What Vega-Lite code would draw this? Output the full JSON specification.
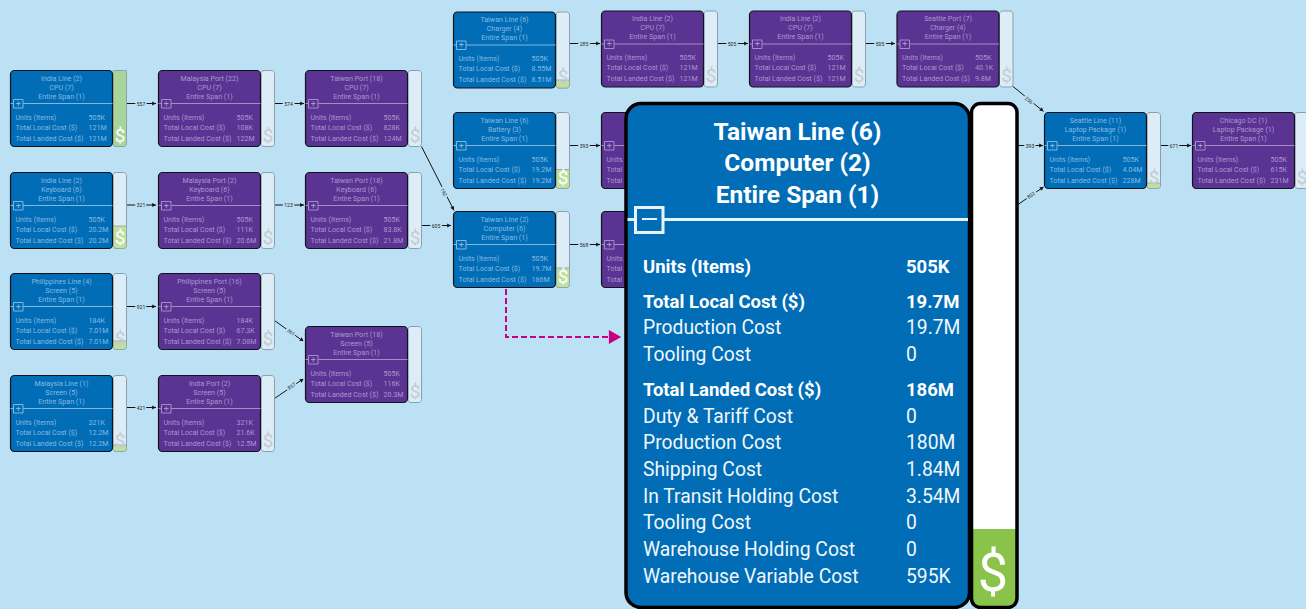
{
"$schema":"https://vega.github.io/schema/vega-lite/v6.json",
"width":1306,"height":609,"padding":0,"autosize":{"type":"none"},
"background":"#bde1f4",
"config":{"view":{"stroke":null},"text":{"font":"Roboto","baseline":"middle"}},
"resolve":{"scale":{"fill":"independent","color":"independent","stroke":"independent"}},
"datasets":{
"nodes":[
{"x":10.5,"y":70.5,"kind":"line","t1":"India Line (2)","t2":"CPU (7)","t3":"Entire Span (1)","units":"505K","local":"121M","landed":"121M","green":70.5,"level":"full"},
{"x":10.5,"y":172.5,"kind":"line","t1":"India Line (2)","t2":"Keyboard (6)","t3":"Entire Span (1)","units":"505K","local":"20.2M","landed":"20.2M","green":226,"level":"high"},
{"x":10.5,"y":273.5,"kind":"line","t1":"Philippines Line (4)","t2":"Screen (5)","t3":"Entire Span (1)","units":"184K","local":"7.01M","landed":"7.01M","green":341,"level":"low"},
{"x":10.5,"y":375.5,"kind":"line","t1":"Malaysia Line (1)","t2":"Screen (5)","t3":"Entire Span (1)","units":"321K","local":"12.2M","landed":"12.2M","green":445,"level":"low"},
{"x":158.5,"y":70.5,"kind":"port","t1":"Malaysia Port (22)","t2":"CPU (7)","t3":"Entire Span (1)","units":"505K","local":"108K","landed":"122M","level":"none"},
{"x":158.5,"y":172.5,"kind":"port","t1":"Malaysia Port (2)","t2":"Keyboard (6)","t3":"Entire Span (1)","units":"505K","local":"111K","landed":"20.6M","level":"none"},
{"x":158.5,"y":273.5,"kind":"port","t1":"Philippines Port (16)","t2":"Screen (5)","t3":"Entire Span (1)","units":"184K","local":"67.3K","landed":"7.08M","level":"none"},
{"x":158.5,"y":375.5,"kind":"port","t1":"India Port (2)","t2":"Screen (5)","t3":"Entire Span (1)","units":"321K","local":"21.6K","landed":"12.5M","level":"none"},
{"x":305.5,"y":70.5,"kind":"port","t1":"Taiwan Port (18)","t2":"CPU (7)","t3":"Entire Span (1)","units":"505K","local":"828K","landed":"124M","level":"none"},
{"x":305.5,"y":172.5,"kind":"port","t1":"Taiwan Port (18)","t2":"Keyboard (6)","t3":"Entire Span (1)","units":"505K","local":"83.8K","landed":"21.8M","level":"none"},
{"x":305.5,"y":326.5,"kind":"port","t1":"Taiwan Port (18)","t2":"Screen (5)","t3":"Entire Span (1)","units":"505K","local":"116K","landed":"20.3M","level":"none"},
{"x":453.5,"y":12,"kind":"line","t1":"Taiwan Line (6)","t2":"Charger (4)","t3":"Entire Span (1)","units":"505K","local":"8.55M","landed":"8.51M","green":80,"level":"low"},
{"x":453.5,"y":112.5,"kind":"line","t1":"Taiwan Line (6)","t2":"Battery (3)","t3":"Entire Span (1)","units":"505K","local":"19.2M","landed":"19.2M","green":169.5,"level":"high"},
{"x":453.5,"y":211.5,"kind":"line","t1":"Taiwan Line (2)","t2":"Computer (6)","t3":"Entire Span (1)","units":"505K","local":"19.7M","landed":"186M","green":268,"level":"high"},
{"x":601.5,"y":11,"kind":"port","t1":"India Line (2)","t2":"CPU (7)","t3":"Entire Span (1)","units":"505K","local":"121M","landed":"121M","level":"none"},
{"x":601.5,"y":112.5,"kind":"port","level":"none"},
{"x":601.5,"y":211.5,"kind":"port","level":"none"},
{"x":749.5,"y":11,"kind":"port","t1":"India Line (2)","t2":"CPU (7)","t3":"Entire Span (1)","units":"505K","local":"121M","landed":"121M","level":"none"},
{"x":897,"y":11,"kind":"port","t1":"Seattle Port (7)","t2":"Charger (4)","t3":"Entire Span (1)","units":"505K","local":"40.1K","landed":"9.8M","level":"none"},
{"x":1044.5,"y":112.5,"kind":"line","t1":"Seattle Line (11)","t2":"Laptop Package (1)","t3":"Entire Span (1)","units":"505K","local":"4.04M","landed":"228M","green":183,"level":"low"},
{"x":1192.5,"y":112.5,"kind":"port","t1":"Chicago DC (1)","t2":"Laptop Package (1)","t3":"Entire Span (1)","units":"505K","local":"615K","landed":"231M","level":"none"}
],
"coveredLabels":[
{"x":601.5,"y":112.5,"a":"Units","b":"Total","c":"Total"},
{"x":601.5,"y":211.5,"a":"Units","b":"Total","c":"Total"}
],
"edges":[
{"x":127,"y":103.5,"xe":156,"ye":103.5},
{"x":127,"y":205,"xe":156,"ye":205},
{"x":274.5,"y":103.5,"xe":304,"ye":103.5},
{"x":274.5,"y":205,"xe":304,"ye":205},
{"x":127,"y":306.5,"xe":156,"ye":306.5},
{"x":127,"y":407.5,"xe":156,"ye":407.5},
{"x":274.5,"y":320.5,"xe":303,"ye":341},
{"x":274.5,"y":398.5,"xe":303,"ye":379},
{"x":421.5,"y":146.5,"xe":454,"ye":210.5},
{"x":422,"y":225.5,"xe":451,"ye":225.5},
{"x":570,"y":43.5,"xe":600,"ye":43.5},
{"x":570,"y":145.5,"xe":600,"ye":145.5},
{"x":570,"y":244.5,"xe":600,"ye":244.5},
{"x":718,"y":43.5,"xe":748,"ye":43.5},
{"x":866,"y":43.5,"xe":895,"ye":43.5},
{"x":1012.5,"y":86,"xe":1043.5,"ye":111.5},
{"x":1018,"y":145.5,"xe":1043,"ye":145.5},
{"x":1018,"y":204.5,"xe":1043.5,"ye":187},
{"x":1161,"y":145.5,"xe":1191,"ye":145.5}
],
"arrows":[
{"x":154,"y":103.5,"angle":0},{"x":154,"y":205,"angle":0},
{"x":302,"y":103.5,"angle":0},{"x":302,"y":205,"angle":0},
{"x":154,"y":306.5,"angle":0},{"x":154,"y":407.5,"angle":0},
{"x":302,"y":340,"angle":36},{"x":302,"y":380,"angle":-34},
{"x":453,"y":208.5,"angle":63},{"x":449,"y":225.5,"angle":0},
{"x":598,"y":43.5,"angle":0},{"x":598,"y":145.5,"angle":0},{"x":598,"y":244.5,"angle":0},
{"x":746,"y":43.5,"angle":0},{"x":893,"y":43.5,"angle":0},
{"x":1042,"y":110,"angle":39},{"x":1041,"y":145.5,"angle":0},{"x":1042,"y":188,"angle":-35},
{"x":1189,"y":145.5,"angle":0}
],
"edgeLabels":[
{"x":141,"y":103.5,"text":"557","angle":0},{"x":141,"y":205,"text":"321","angle":0},
{"x":288.5,"y":103.5,"text":"574","angle":0},{"x":288.5,"y":205,"text":"123","angle":0},
{"x":141,"y":306.5,"text":"921","angle":0},{"x":141,"y":407.5,"text":"421","angle":0},
{"x":291,"y":332,"text":"361","angle":36},{"x":291.5,"y":386,"text":"857","angle":-34},
{"x":444,"y":192,"text":"192","angle":63},{"x":436,"y":225.5,"text":"605","angle":0},
{"x":584,"y":43.5,"text":"285","angle":0},{"x":584,"y":145.5,"text":"393","angle":0},{"x":584,"y":244.5,"text":"568","angle":0},
{"x":732,"y":43.5,"text":"505","angle":0},{"x":880,"y":43.5,"text":"505","angle":0},
{"x":1029,"y":100,"text":"256","angle":39},{"x":1030,"y":145.5,"text":"393","angle":0},{"x":1031,"y":195,"text":"802","angle":-35},
{"x":1174,"y":145.5,"text":"671","angle":0}
],
"callout":[{"x":506,"y":289,"o":1},{"x":506,"y":337,"o":2},{"x":609,"y":337,"o":3}],
"calloutHead":[{"x":615,"y":337}],
"panel":[{"x":626,"y":103.5,"xe":969.5,"ye":607.5}],
"panelGauge":[{"x":971.5,"y":103.5,"xe":1017,"ye":607.5}],
"panelGreen":[{"x":971.5,"y":529,"xe":1017,"ye":607.5}],
"panelRule":[{"x":627.5,"y":219.5,"xe":968,"ye":219.5}],
"panelBox":[{"x":635.5,"y":207.5,"xe":663,"ye":232.5}],
"panelMinus":[{"x":642,"y":219,"xe":657,"ye":219}],
"panelDollar":[{"x":993,"y":575,"text":"$"}],
"panelTitle":[
{"x":797.5,"y":133,"text":"Taiwan Line (6)"},
{"x":797.5,"y":164,"text":"Computer (2)"},
{"x":797.5,"y":196,"text":"Entire Span (1)"}],
"panelRows":[
{"x":643,"y":267,"text":"Units (Items)","value":"505K","bold":true},
{"x":643,"y":302,"text":"Total Local Cost ($)","value":"19.7M","bold":true},
{"x":643,"y":328,"text":"Production Cost","value":"19.7M","bold":false},
{"x":643,"y":355,"text":"Tooling Cost","value":"0","bold":false},
{"x":643,"y":390,"text":"Total Landed Cost ($)","value":"186M","bold":true},
{"x":643,"y":417,"text":"Duty & Tariff Cost","value":"0","bold":false},
{"x":643,"y":443,"text":"Production Cost","value":"180M","bold":false},
{"x":643,"y":470,"text":"Shipping Cost","value":"1.84M","bold":false},
{"x":643,"y":497,"text":"In Transit Holding Cost","value":"3.54M","bold":false},
{"x":643,"y":523,"text":"Tooling Cost","value":"0","bold":false},
{"x":643,"y":550,"text":"Warehouse Holding Cost","value":"0","bold":false},
{"x":643,"y":577,"text":"Warehouse Variable Cost","value":"595K","bold":false}]
},
"encoding":{
"x":{"field":"x","type":"quantitative","axis":null,"scale":{"domain":[0,1306],"nice":false,"zero":false}},
"y":{"field":"y","type":"quantitative","axis":null,"scale":{"domain":[609,0],"nice":false,"zero":false}}
},
"layer":[
{"data":{"name":"edges"},"mark":{"type":"rule","color":"#111","strokeWidth":1},"encoding":{"x2":{"field":"xe"},"y2":{"field":"ye"}}},
{"data":{"name":"arrows"},"mark":{"type":"point","shape":"triangle-right","filled":true,"color":"#111","size":18,"opacity":1},"encoding":{"angle":{"field":"angle","type":"quantitative","scale":null}}},
{"data":{"name":"edgeLabels"},"mark":{"type":"text","fontSize":5,"fill":"#bde1f4","stroke":"#bde1f4","strokeWidth":3.5,"align":"center"},"encoding":{"text":{"field":"text"},"angle":{"field":"angle","type":"quantitative","scale":null}}},
{"data":{"name":"edgeLabels"},"mark":{"type":"text","fontSize":5,"fill":"#222","align":"center"},"encoding":{"text":{"field":"text"},"angle":{"field":"angle","type":"quantitative","scale":null}}},

{"data":{"name":"nodes"},"mark":{"type":"rect","cornerRadius":3,"x2Offset":116,"xOffset":102.5,"y2Offset":76,"fill":"#dcedf8","stroke":"#8a9fab","strokeWidth":1},"encoding":{"x2":{"field":"x"},"y2":{"field":"y"}}},
{"data":{"name":"nodes"},"transform":[{"filter":"isValid(datum.green)"}],"mark":{"type":"rect","cornerRadiusBottomLeft":3,"cornerRadiusBottomRight":3,"x2Offset":116,"xOffset":102.5,"y2Offset":76,"stroke":"#8a9fab","strokeWidth":0.8},"encoding":{"y":{"field":"green","type":"quantitative","axis":null,"scale":{"domain":[609,0],"nice":false,"zero":false}},"x2":{"field":"x"},"y2":{"field":"y"},"fill":{"field":"level","type":"nominal","legend":null,"scale":{"domain":["full","high","low"],"range":["#a7d59c","#c0e09f","#c0e09f"]}}}},
{"data":{"name":"nodes"},"mark":{"type":"text","text":"$","fontSize":19,"align":"center","xOffset":109.5,"yOffset":65},"encoding":{"color":{"field":"level","type":"nominal","legend":null,"scale":{"domain":["full","high","low","none"],"range":["#ffffff","#ffffff","#c6cbd0","#c6cbd0"]}}}},
{"data":{"name":"nodes"},"mark":{"type":"rect","cornerRadius":4,"x2Offset":102,"y2Offset":76,"stroke":"#10131a","strokeWidth":1.2},"encoding":{"x2":{"field":"x"},"y2":{"field":"y"},"fill":{"field":"kind","type":"nominal","legend":null,"scale":{"domain":["line","port"],"range":["#016db7","#5b3393"]}}}},
{"data":{"name":"nodes"},"mark":{"type":"rule","strokeWidth":1,"x2Offset":102,"yOffset":33,"y2Offset":33},"encoding":{"x2":{"field":"x"},"y2":{"field":"y"},"stroke":{"field":"kind","type":"nominal","legend":null,"scale":{"domain":["line","port"],"range":["#82b7dc","#a18fc4"]}}}},
{"data":{"name":"nodes"},"mark":{"type":"rect","x2Offset":12.5,"xOffset":3,"yOffset":29,"y2Offset":37.5,"strokeWidth":1},"encoding":{"x2":{"field":"x"},"y2":{"field":"y"},"fill":{"field":"kind","type":"nominal","legend":null,"scale":{"domain":["line","port"],"range":["#016db7","#5b3393"]}},"stroke":{"field":"kind","type":"nominal","legend":null,"scale":{"domain":["line","port"],"range":["#82b7dc","#a18fc4"]}}}},
{"data":{"name":"nodes"},"mark":{"type":"text","text":"+","fontSize":9,"align":"center","xOffset":7.7,"yOffset":33},"encoding":{"color":{"condition":{"test":"datum.kind==='line'","value":"#84bae0"},"value":"#a998cc"}}},
{"data":{"name":"nodes"},"transform":[{"filter":"isValid(datum.t1)"}],"mark":{"type":"text","fontSize":7.1,"align":"center","xOffset":51,"yOffset":8},"encoding":{"text":{"field":"t1"},"color":{"condition":{"test":"datum.kind==='line'","value":"#84bae0"},"value":"#a998cc"}}},
{"data":{"name":"nodes"},"transform":[{"filter":"isValid(datum.t1)"}],"mark":{"type":"text","fontSize":7.1,"align":"center","xOffset":51,"yOffset":17},"encoding":{"text":{"field":"t2"},"color":{"condition":{"test":"datum.kind==='line'","value":"#84bae0"},"value":"#a998cc"}}},
{"data":{"name":"nodes"},"transform":[{"filter":"isValid(datum.t1)"}],"mark":{"type":"text","fontSize":7.1,"align":"center","xOffset":51,"yOffset":26},"encoding":{"text":{"field":"t3"},"color":{"condition":{"test":"datum.kind==='line'","value":"#84bae0"},"value":"#a998cc"}}},
{"data":{"name":"nodes"},"transform":[{"filter":"isValid(datum.t1)"}],"mark":{"type":"text","text":"Units (Items)","fontSize":7.1,"align":"left","xOffset":5,"yOffset":47},"encoding":{"color":{"condition":{"test":"datum.kind==='line'","value":"#84bae0"},"value":"#a998cc"}}},
{"data":{"name":"nodes"},"transform":[{"filter":"isValid(datum.t1)"}],"mark":{"type":"text","text":"Total Local Cost ($)","fontSize":7.1,"align":"left","xOffset":5,"yOffset":57},"encoding":{"color":{"condition":{"test":"datum.kind==='line'","value":"#84bae0"},"value":"#a998cc"}}},
{"data":{"name":"nodes"},"transform":[{"filter":"isValid(datum.t1)"}],"mark":{"type":"text","text":"Total Landed Cost ($)","fontSize":7.1,"align":"left","xOffset":5,"yOffset":68},"encoding":{"color":{"condition":{"test":"datum.kind==='line'","value":"#84bae0"},"value":"#a998cc"}}},
{"data":{"name":"coveredLabels"},"mark":{"type":"text","fontSize":7.1,"align":"left","xOffset":5,"yOffset":47,"fill":"#a998cc"},"encoding":{"text":{"field":"a"}}},
{"data":{"name":"coveredLabels"},"mark":{"type":"text","fontSize":7.1,"align":"left","xOffset":5,"yOffset":57,"fill":"#a998cc"},"encoding":{"text":{"field":"b"}}},
{"data":{"name":"coveredLabels"},"mark":{"type":"text","fontSize":7.1,"align":"left","xOffset":5,"yOffset":68,"fill":"#a998cc"},"encoding":{"text":{"field":"c"}}},
{"data":{"name":"nodes"},"transform":[{"filter":"isValid(datum.t1)"}],"mark":{"type":"text","fontSize":7.1,"align":"left","xOffset":78,"yOffset":47},"encoding":{"text":{"field":"units"},"color":{"condition":{"test":"datum.kind==='line'","value":"#84bae0"},"value":"#a998cc"}}},
{"data":{"name":"nodes"},"transform":[{"filter":"isValid(datum.t1)"}],"mark":{"type":"text","fontSize":7.1,"align":"left","xOffset":78,"yOffset":57},"encoding":{"text":{"field":"local"},"color":{"condition":{"test":"datum.kind==='line'","value":"#84bae0"},"value":"#a998cc"}}},
{"data":{"name":"nodes"},"transform":[{"filter":"isValid(datum.t1)"}],"mark":{"type":"text","fontSize":7.1,"align":"left","xOffset":78,"yOffset":68},"encoding":{"text":{"field":"landed"},"color":{"condition":{"test":"datum.kind==='line'","value":"#84bae0"},"value":"#a998cc"}}},

{"data":{"name":"callout"},"mark":{"type":"line","color":"#c6007e","strokeWidth":2,"strokeDash":[6,3],"interpolate":"linear"},"encoding":{"order":{"field":"o","type":"ordinal"}}},
{"data":{"name":"calloutHead"},"mark":{"type":"point","shape":"triangle-right","filled":true,"color":"#c6007e","size":200,"opacity":1}},

{"data":{"name":"panel"},"mark":{"type":"rect","cornerRadius":15,"fill":"#016db7","stroke":"#000","strokeWidth":3.5},"encoding":{"x2":{"field":"xe"},"y2":{"field":"ye"}}},
{"data":{"name":"panelRule"},"mark":{"type":"rule","color":"#e8f3fa","strokeWidth":3},"encoding":{"x2":{"field":"xe"},"y2":{"field":"ye"}}},
{"data":{"name":"panelBox"},"mark":{"type":"rect","fill":"#016db7","stroke":"#e8f3fa","strokeWidth":3},"encoding":{"x2":{"field":"xe"},"y2":{"field":"ye"}}},
{"data":{"name":"panelMinus"},"mark":{"type":"rule","color":"#e8f3fa","strokeWidth":2},"encoding":{"x2":{"field":"xe"},"y2":{"field":"ye"}}},
{"data":{"name":"panelTitle"},"mark":{"type":"text","fontSize":24.5,"fontWeight":"bold","fill":"#ffffff","align":"center"},"encoding":{"text":{"field":"text"}}},
{"data":{"name":"panelRows"},"transform":[{"filter":"datum.bold"}],"mark":{"type":"text","fontSize":18.5,"fontWeight":"bold","fill":"#ffffff","align":"left"},"encoding":{"text":{"field":"text"}}},
{"data":{"name":"panelRows"},"transform":[{"filter":"datum.bold"}],"mark":{"type":"text","fontSize":18.5,"fontWeight":"bold","fill":"#ffffff","align":"left","xOffset":263},"encoding":{"text":{"field":"value"}}},
{"data":{"name":"panelRows"},"transform":[{"filter":"!datum.bold"}],"mark":{"type":"text","fontSize":19.3,"fill":"#f2f7fb","align":"left"},"encoding":{"text":{"field":"text"}}},
{"data":{"name":"panelRows"},"transform":[{"filter":"!datum.bold"}],"mark":{"type":"text","fontSize":19.3,"fill":"#f2f7fb","align":"left","xOffset":263},"encoding":{"text":{"field":"value"}}},

{"data":{"name":"panelGauge"},"mark":{"type":"rect","cornerRadius":9,"fill":"#ffffff"},"encoding":{"x2":{"field":"xe"},"y2":{"field":"ye"}}},
{"data":{"name":"panelGreen"},"mark":{"type":"rect","cornerRadiusBottomLeft":9,"cornerRadiusBottomRight":9,"fill":"#89c349"},"encoding":{"x2":{"field":"xe"},"y2":{"field":"ye"}}},
{"data":{"name":"panelGauge"},"mark":{"type":"rect","cornerRadius":9,"fillOpacity":0,"fill":"#fff","stroke":"#000","strokeWidth":3.5},"encoding":{"x2":{"field":"xe"},"y2":{"field":"ye"}}},
{"data":{"name":"panelDollar"},"mark":{"type":"text","fontSize":54,"fill":"#ffffff","align":"center"},"encoding":{"text":{"field":"text"}}}
]
}
